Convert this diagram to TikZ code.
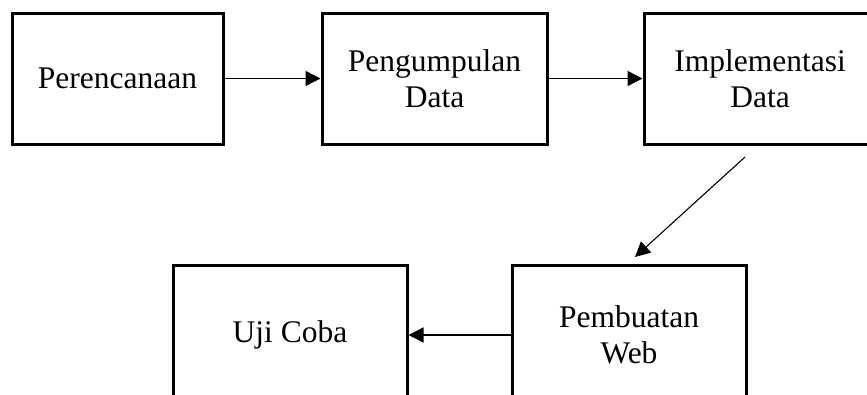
\documentclass[tikz,border=0pt]{standalone}
\usepackage{fontspec}
\setmainfont{Liberation Serif}
\usetikzlibrary{arrows.meta, positioning}

\begin{document}
\begin{tikzpicture}[
    x=1pt, y=-1pt,
    box/.style={rectangle, draw=black, line width=3pt, inner sep=0pt, align=center,
                font=\fontsize{31.5}{36}\selectfont},
    arrow/.style={-{Triangle[length=15pt, width=15pt]}, line width=1.4pt}
]
\useasboundingbox (0,0) rectangle (867,394);
\clip (0,0) rectangle (867,394);

% === Top row ===
\node[box, minimum width=211pt, minimum height=131pt] (plan) at (117.5, 78.5) {Perencanaan};
\node[box, minimum width=225pt, minimum height=131pt] (collect) at (434.5, 78.5) {Pengumpulan\\Data};
\node[box, minimum width=232pt, minimum height=131pt] (impl) at (760, 78.5) {Implementasi\\Data};

\draw[arrow] (plan) -- (collect);
\draw[arrow] (collect) -- (impl);

% === Bottom row ===
\node[box, minimum width=234pt, minimum height=140pt] (web) at (629, 335) {Pembuatan\\Web};
\node[box, minimum width=234pt, minimum height=140pt] (test) at (290, 335) {Uji Coba};

\draw[arrow] (web) -- (test);

% Diagonal link between rows
\coordinate (implout) at (745, 157);
\coordinate (webin) at (635, 257);
\draw[arrow, line width=1.1pt] (implout) -- (webin);

\end{tikzpicture}
\end{document}
